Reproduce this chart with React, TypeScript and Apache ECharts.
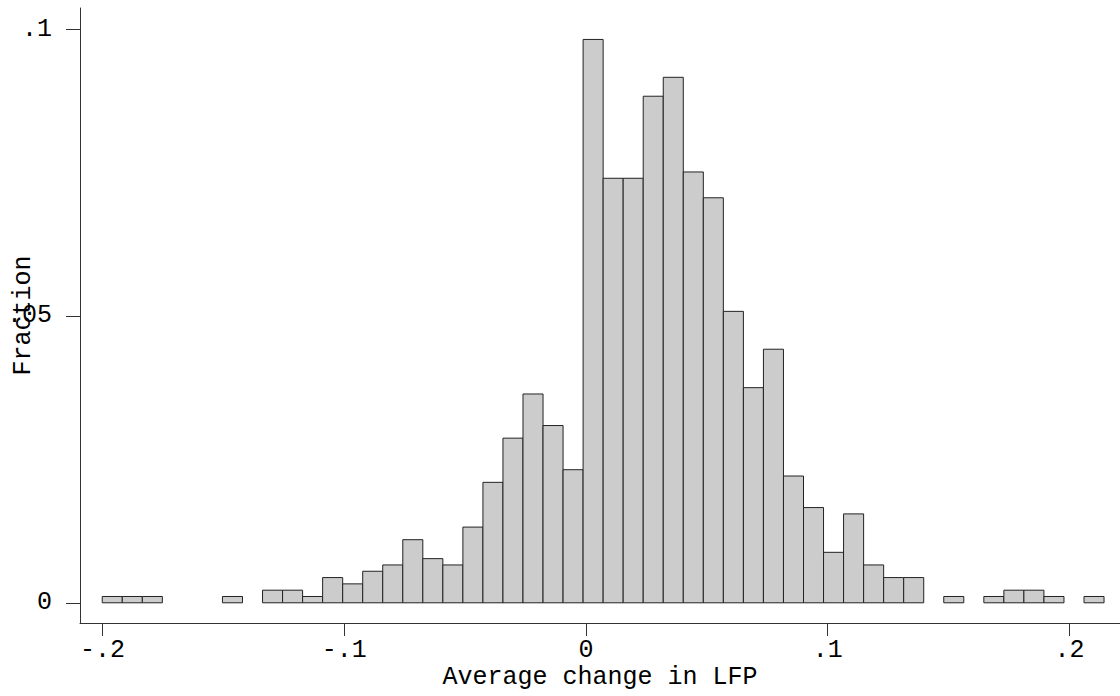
import React, { useEffect, useRef } from "react";
import * as echarts from "echarts";

// Histogram: fraction of observations per bin (50 equal-width bins)
const binStart = -0.2001;
const binWidth = 0.008288;
const fractions: number[] = [
  0.0011, 0.0011, 0.0011, 0, 0, 0, 0.0011, 0, 0.0022, 0.0022,
  0.0011, 0.0044, 0.0033, 0.0055, 0.0066, 0.011, 0.0077, 0.0066, 0.0132, 0.021,
  0.0287, 0.0364, 0.0309, 0.0232, 0.0982, 0.074, 0.074, 0.0883, 0.0916, 0.0751,
  0.0706, 0.0508, 0.0375, 0.0442, 0.0221, 0.0166, 0.0088, 0.0155, 0.0066, 0.0044,
  0.0044, 0, 0.0011, 0, 0.0011, 0.0022, 0.0022, 0.0011, 0, 0.0011,
];

const xTicks: number[] = [-0.2, -0.1, 0, 0.1, 0.2];
const xTickLabels: string[] = ["-.2", "-.1", "0", ".1", ".2"];
const yTicks: number[] = [0, 0.05, 0.1];
const yTickLabels: string[] = ["0", ".05", ".1"];

const xTitle = "Average change in LFP";
const yTitle = "Fraction";

const FONT = "'Liberation Mono', 'DejaVu Sans Mono', monospace";

export default function App() {
  const ref = useRef<HTMLDivElement>(null);
  useEffect(() => {
    document.body.style.margin = "0";
    if (!ref.current) return;
    const chart = echarts.init(ref.current, undefined, { renderer: "svg" });
    const data = fractions.map((f, i) => [binStart + i * binWidth, binStart + (i + 1) * binWidth, f]);
    const labelFor = (v: number, ticks: number[], labels: string[]) => {
      let best = 0;
      for (let i = 0; i < ticks.length; i++) if (Math.abs(ticks[i] - v) < Math.abs(ticks[best] - v)) best = i;
      return labels[best];
    };
    chart.setOption({
      animation: false,
      backgroundColor: "#ffffff",
      grid: { left: 80, right: 0, top: 8, bottom: 73, outerBoundsMode: "none", containLabel: false },
      xAxis: {
        type: "value",
        min: -0.2093,
        max: 0.2209,
        splitLine: { show: false },
        axisLine: { show: true, onZero: false, lineStyle: { color: "#333", width: 1 } },
        axisTick: { show: true, length: 13, customValues: xTicks, lineStyle: { color: "#333" } },
        axisLabel: {
          customValues: xTicks,
          formatter: (v: number) => labelFor(v, xTicks, xTickLabels),
          fontFamily: FONT,
          fontSize: 25,
          color: "#000",
          margin: 15,
        },
        name: xTitle,
        nameLocation: "middle",
        nameGap: 42,
        nameMoveOverlap: false,
        nameTextStyle: { fontFamily: FONT, fontSize: 25, color: "#000" },
      },
      yAxis: {
        type: "value",
        min: -0.00352,
        max: 0.10368,
        splitLine: { show: false },
        axisLine: { show: true, onZero: false, lineStyle: { color: "#333", width: 1 } },
        axisTick: { show: true, length: 14, customValues: yTicks, lineStyle: { color: "#333" } },
        axisLabel: {
          customValues: yTicks,
          formatter: (v: number) => labelFor(v, yTicks, yTickLabels),
          fontFamily: FONT,
          fontSize: 25,
          color: "#000",
          margin: 28,
        },
        name: yTitle,
        nameLocation: "middle",
        nameGap: 44,
        nameRotate: 90,
        nameMoveOverlap: false,
        nameTextStyle: { fontFamily: FONT, fontSize: 25, color: "#000" },
      },
      series: [
        {
          type: "custom",
          renderItem: (params: any, api: any) => {
            const x0 = api.value(0);
            const x1 = api.value(1);
            const y = api.value(2);
            if (!y) return null;
            const p0 = api.coord([x0, 0]);
            const p1 = api.coord([x1, y]);
            return {
              type: "rect",
              shape: { x: p0[0], y: p1[1], width: p1[0] - p0[0], height: p0[1] - p1[1] },
              style: { fill: "#cccccc", stroke: "#222", lineWidth: 1 },
            };
          },
          encode: { x: [0, 1], y: 2 },
          data,
        },
      ],
    });
    return () => chart.dispose();
  }, []);
  return <div ref={ref} style={{ width: 1120, height: 696 }} />;
}
